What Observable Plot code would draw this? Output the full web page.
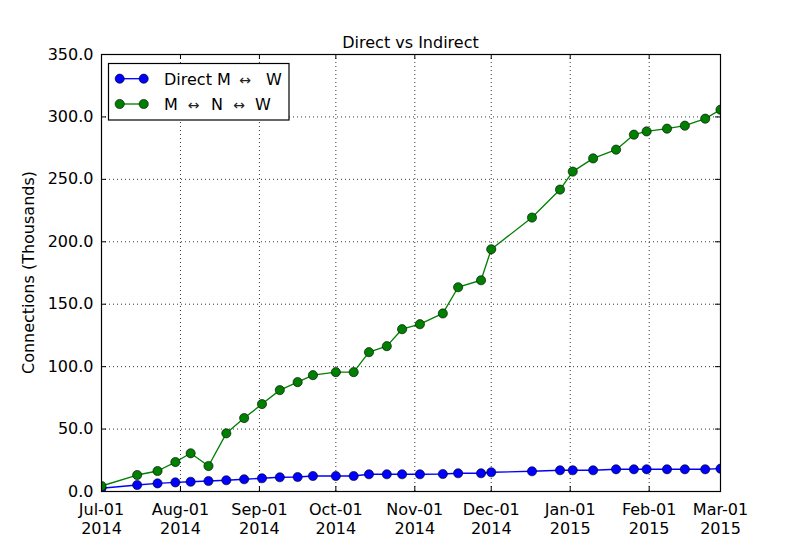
<!DOCTYPE html>
<html><head><meta charset="utf-8">
<script src="https://cdn.jsdelivr.net/npm/d3@7"></script>
<script src="https://cdn.jsdelivr.net/npm/@observablehq/plot@0.6"></script>
<style>body{margin:0;background:#fff;} #chart svg{display:block;}</style>
</head><body><div id="chart"></div>
<script>
const dates = ["2014-07-01","2014-07-15","2014-07-23","2014-07-30","2014-08-05","2014-08-12","2014-08-19","2014-08-26",
  "2014-09-02","2014-09-09","2014-09-16","2014-09-22","2014-10-01","2014-10-08","2014-10-14","2014-10-21","2014-10-27",
  "2014-11-03","2014-11-12","2014-11-18","2014-11-27","2014-12-01","2014-12-17","2014-12-28","2015-01-02","2015-01-10",
  "2015-01-19","2015-01-26","2015-01-31","2015-02-08","2015-02-15","2015-02-23","2015-03-01"];
const direct = [2.6,5.2,6.5,7.3,7.8,8.4,9.0,9.8,10.6,11.4,11.6,12.4,12.4,12.4,13.8,13.8,13.8,
  13.8,14.0,14.6,14.6,15.4,16.2,17.0,17.0,17.0,17.8,17.8,17.8,17.8,17.8,17.8,18.3];
const indirect = [4.4,13.2,16.4,23.6,30.6,20.4,46.6,58.8,70.0,81.2,87.6,93.2,95.6,95.6,111.6,116.4,130.0,
  134.0,142.6,163.6,169.2,194.0,219.4,241.8,256.2,266.8,273.8,285.8,288.4,290.6,293.0,298.6,305.8];
const seriesKeys = ["direct","indirect"];
const seriesColors = ["#0000ff","#008000"];
const yTicks = [0,50,100,150,200,250,300,350];
const xTickLabels = ["2014-07-01","2014-08-01","2014-09-01","2014-10-01","2014-11-01","2014-12-01","2015-01-01","2015-02-01","2015-03-01"];
const titleText = "Direct vs Indirect";
const yLabel = "Connections (Thousands)";

const parse = d3.utcParse("%Y-%m-%d");
const xT = xTickLabels.map(parse);
const rows = [];
dates.forEach((d,i)=>rows.push({date: parse(d), value: direct[i], series: "direct"}));
dates.forEach((d,i)=>rows.push({date: parse(d), value: indirect[i], series: "indirect"}));

const W = 800, H = 547, mL = 101, mR = 80, mT = 54, mB = 56;
const innerW = W - mL - mR, innerH = H - mT - mB;
const fmtM = d3.utcFormat("%b-%d"), fmtY = d3.utcFormat("%Y");
const grid = {stroke: "#000", strokeOpacity: 1, strokeDasharray: "1,3", strokeWidth: 0.8};

const chart = Plot.plot({
  width: W, height: H,
  marginLeft: mL, marginRight: mR, marginTop: mT, marginBottom: mB,
  style: {fontFamily: "DejaVu Sans", fontSize: "16px", background: "#fff", color: "#000"},
  x: {type: "utc", domain: [xT[0], xT[xT.length-1]]},
  y: {domain: [0, 350]},
  color: {domain: seriesKeys, range: seriesColors},
  marks: [
    Plot.gridX(xT, grid),
    Plot.gridY(yTicks, grid),
    Plot.line(rows, {x: "date", y: "value", z: "series", stroke: "series", strokeWidth: 1.33, clip: "frame"}),
    Plot.dot(rows, {x: "date", y: "value", fill: "series", stroke: "#000", strokeWidth: 0.6, r: 4.6, clip: "frame"}),
    Plot.tickX(xT, {insetTop: innerH - 5, stroke: "#000"}),
    Plot.tickX(xT, {insetBottom: innerH - 5, stroke: "#000"}),
    Plot.tickY(yTicks, {insetRight: innerW - 5, stroke: "#000"}),
    Plot.tickY(yTicks, {insetLeft: innerW - 5, stroke: "#000"}),
    Plot.frame({stroke: "#000", strokeWidth: 1.2}),
    Plot.axisX(xT, {tickSize: 0, tickPadding: 10, fontSize: 16, label: null, lineHeight: 1.2,
      tickFormat: d => fmtM(d) + "\n" + fmtY(d)}),
    Plot.axisY(yTicks, {tickSize: 0, tickPadding: 8, fontSize: 16, label: null, tickFormat: d3.format(".1f")})
  ]
});
document.getElementById("chart").appendChild(chart);

const svg = d3.select(chart);
svg.append("text").attr("x", mL + innerW/2).attr("y", 48).attr("text-anchor", "middle")
  .attr("font-size", 16).attr("fill", "#000").text(titleText);
svg.append("text").attr("transform", `translate(34,${mT + innerH/2}) rotate(-90)`).attr("text-anchor", "middle")
  .attr("font-size", 16).attr("fill", "#000").text(yLabel);

// legend
const lg = svg.append("g").attr("font-size", 16).attr("fill", "#000");
lg.append("rect").attr("x", 108.5).attr("y", 63.5).attr("width", 180.5).attr("height", 56.5)
  .attr("fill", "#fff").attr("stroke", "#000").attr("stroke-width", 1.2);
const legendRows = [
  {y: 78.7, color: seriesColors[0], parts: [["Direct M", 164, "start"], ["\u2194", 245, "middle"], ["W", 266, "start"]]},
  {y: 104, color: seriesColors[1], parts: [["M", 164, "start"], ["\u2194", 193.5, "middle"], ["N", 211, "start"], ["\u2194", 239, "middle"], ["W", 255, "start"]]}
];
legendRows.forEach(r => {
  lg.append("line").attr("x1", 119.7).attr("x2", 143.7).attr("y1", r.y).attr("y2", r.y)
    .attr("stroke", r.color).attr("stroke-width", 1.33);
  [119.7, 143.7].forEach(cx => lg.append("circle").attr("cx", cx).attr("cy", r.y).attr("r", 4.6)
    .attr("fill", r.color).attr("stroke", "#000").attr("stroke-width", 0.6));
  r.parts.forEach(([t, x, a]) => {
    const el = lg.append("text").attr("x", x).attr("y", r.y + 6).attr("text-anchor", a).text(t);
    if (t === "\u2194") el.attr("font-size", 14).attr("fill", "#222");
  });
});
</script>
</body></html>
